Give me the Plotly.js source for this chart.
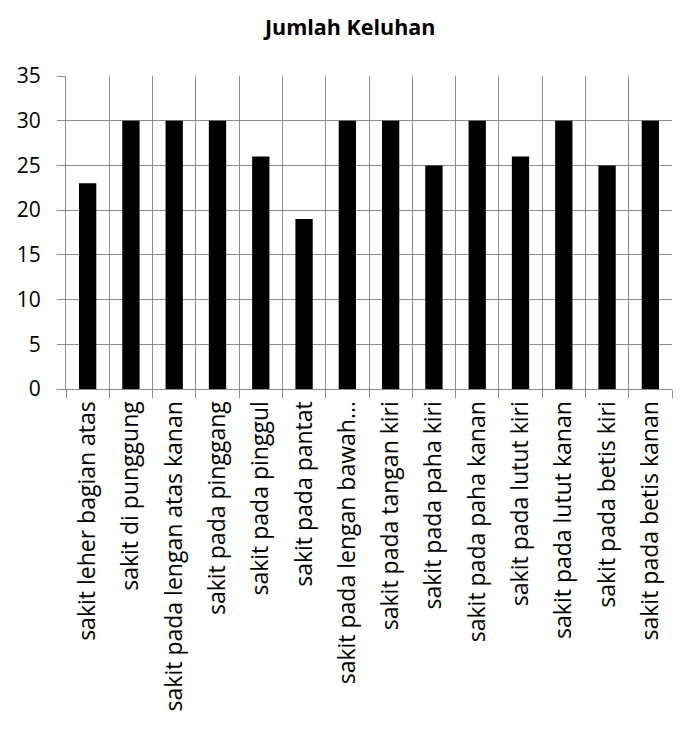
<!DOCTYPE html>
<html>
<head>
<meta charset="utf-8">
<script src="https://cdn.plot.ly/plotly-3.0.1.min.js"></script>
<style>html,body{margin:0;padding:0;background:#fff;}#chart{width:684px;height:731px;}</style>
</head>
<body>
<div id="chart"></div>
<script>
const categories = [
  "sakit leher bagian atas",
  "sakit di punggung",
  "sakit pada lengan atas kanan",
  "sakit pada pinggang",
  "sakit pada pinggul",
  "sakit pada pantat",
  "sakit pada lengan bawah…",
  "sakit pada tangan kiri",
  "sakit pada paha kiri",
  "sakit pada paha kanan",
  "sakit pada lutut kiri",
  "sakit pada lutut kanan",
  "sakit pada betis kiri",
  "sakit pada betis kanan"
];
const values = [23, 30, 30, 30, 26, 19, 30, 30, 25, 30, 26, 30, 25, 30];
const yTicks = [0, 5, 10, 15, 20, 25, 30, 35];

const font = "'Open Sans', 'Liberation Sans', sans-serif";
Plotly.newPlot("chart", [{
  type: "bar",
  x: categories,
  y: values,
  marker: {color: "#000000", line: {width: 0}},
  width: 0.4,
  hoverinfo: "x+y"
}], {
  width: 684, height: 731,
  margin: {l: 66, r: 12, t: 76, b: 342, pad: 0},
  paper_bgcolor: "#ffffff", plot_bgcolor: "#ffffff",
  showlegend: false,
  title: {text: "<b>Jumlah Keluhan</b>", x: 0.512, xanchor: "center", y: 0.962, yanchor: "middle",
          font: {family: font, size: 21.5, color: "#000"}},
  xaxis: {
    type: "category",
    tickson: "boundaries",
    showgrid: true, gridcolor: "#8c8c8c", gridwidth: 1,
    ticks: "outside", ticklen: 8, tickcolor: "#8c8c8c",
    showline: true, linecolor: "#8c8c8c", linewidth: 1,
    tickangle: -90,
    ticklabelstandoff: 2,
    tickfont: {family: font, size: 23, color: "#000"},
    zeroline: false,
    range: [-0.5, 13.5]
  },
  yaxis: {
    range: [0, 35],
    tickvals: yTicks,
    ticktext: yTicks.map(String),
    showgrid: true, gridcolor: "#8c8c8c", gridwidth: 1,
    ticks: "outside", ticklen: 8, tickcolor: "#8c8c8c",
    showline: true, linecolor: "#8c8c8c", linewidth: 1,
    zeroline: false,
    ticklabelstandoff: 12,
    tickfont: {family: font, size: 21, color: "#000"}
  },
  bargap: 0.6
}, {staticPlot: true});
</script>
</body>
</html>
